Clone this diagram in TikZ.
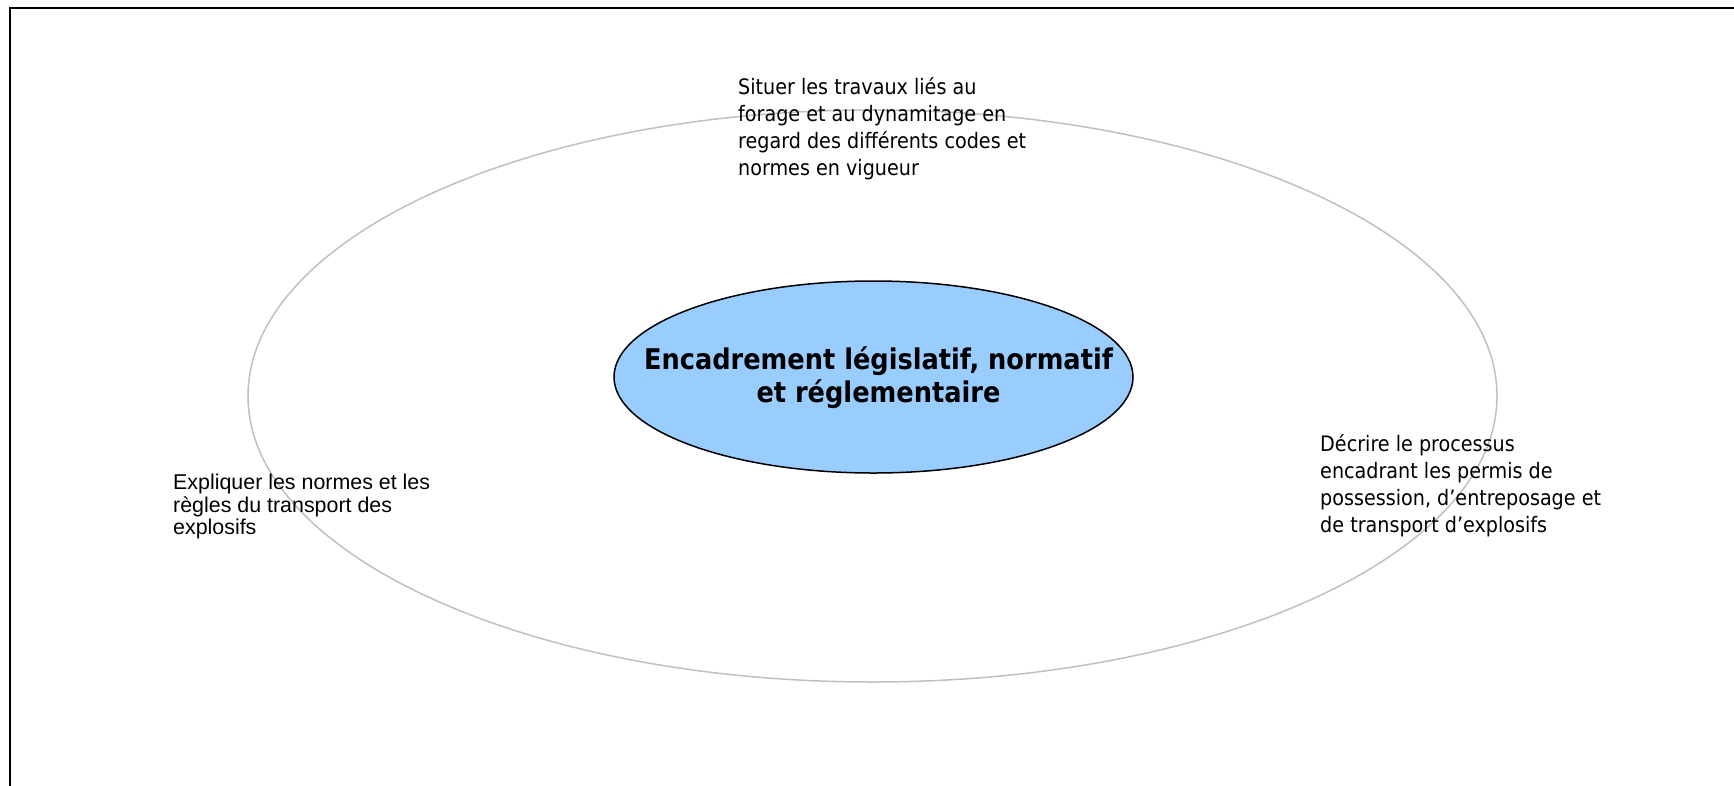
\documentclass[tikz,border=0pt]{standalone}
\usepackage{fontspec}
\setmainfont{DejaVu Sans Condensed}
\newfontfamily\arialfont{Liberation Sans}
\usetikzlibrary{shapes.geometric}
\definecolor{bulle}{HTML}{99CCFF}
\definecolor{contour}{HTML}{C0C0C0}
\begin{document}
\begin{tikzpicture}[x=1pt, y=-1pt, every node/.style={inner sep=0pt},
  objectif/.style={anchor=north west, align=left, font=\fontsize{21.3}{27}\selectfont},
  cercle/.style={ellipse, draw=contour, line width=1.5pt, minimum width=1249pt, minimum height=572pt},
  centre/.style={ellipse, draw=black, line width=1.5pt, fill=bulle, minimum width=519pt, minimum height=192pt},
  titre/.style={align=center, font=\fontsize{28.5}{33}\selectfont\bfseries}]
  \useasboundingbox (0,0) rectangle (1734,785);
  % cadre de la page
  \coordinate (coin) at (10,8);
  \draw[line width=2pt] (1740,8) -- (coin) -- (10,790);
  \node[cercle] (cercle) at (872.5,396) {};
  \node[centre] (centre) at (873.5,377) {};
  \node[titre, xshift=5pt, yshift=-1pt] (titre) at (centre) {Encadrement législatif, normatif\\et réglementaire};
  % objectifs
  \node[objectif] (situer) at (738,77) {Situer les travaux liés au\\forage et au dynamitage en\\regard des différents codes et\\normes en vigueur};
  \node[objectif] (decrire) at (1320,434) {Décrire le processus\\encadrant les permis de\\possession, d’entreposage et\\de transport d’explosifs};
  \node[objectif, font=\arialfont\fontsize{21.4}{22.5}\selectfont] (expliquer) at (173,474) {Expliquer les normes et les\\règles du transport des\\explosifs};
\end{tikzpicture}
\end{document}
